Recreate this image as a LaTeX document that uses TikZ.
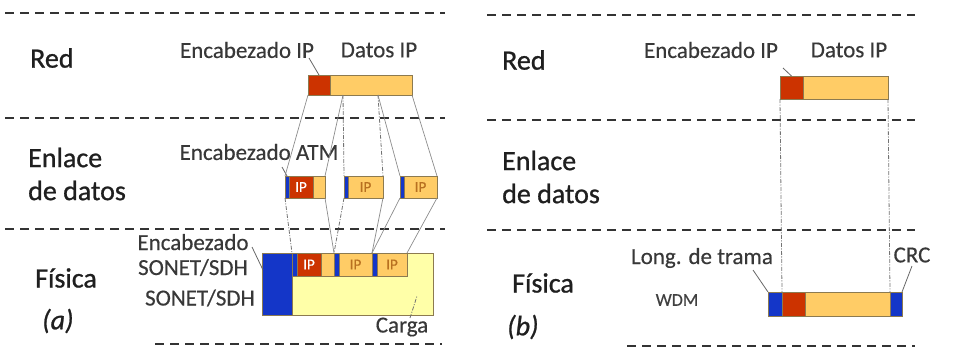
\documentclass[tikz,border=0pt]{standalone}
\usepackage{fontspec}
\setmainfont{Carlito}
\newfontfamily\layerfont[FakeBold=0.9]{Carlito}
\newfontfamily\lblfont[FakeBold=0.4]{Carlito}
\definecolor{hred}{HTML}{CC3300}
\definecolor{dorange}{HTML}{FFCC66}
\definecolor{hblue}{HTML}{1436C8}
\definecolor{pyellow}{HTML}{FFFFA8}
\definecolor{edgec}{HTML}{8C7A50}
\definecolor{iptext}{HTML}{B87020}
\tikzset{
  layer/.style={font=\layerfont\fontsize{28}{33}\selectfont, text=black!88, align=left, anchor=west, inner sep=0pt},
  lbl/.style={font=\lblfont\fontsize{23}{25}\selectfont, text=black!78, inner sep=0pt},
  smlbl/.style={font=\lblfont\fontsize{18}{20}\selectfont, text=black!75, inner sep=0pt},
  dline/.style={line width=2.4pt, black!80, dash pattern=on 9pt off 6pt},
  pbox/.style={draw=edgec, line width=0.6pt, inner sep=0pt, anchor=north west, outer sep=0pt},
  iplab/.style={font=\lblfont\fontsize{15}{15}\selectfont},
  conn/.style={black!45, line width=0.7pt},
  dconn/.style={black!55, line width=0.8pt, dash pattern=on 4pt off 1.5pt on 1pt off 1.5pt},
  ptr/.style={black!60, line width=0.8pt},
}
\begin{document}
\begin{tikzpicture}[x=1pt,y=-1pt]
\useasboundingbox (0,0) rectangle (954,354);
% ---------- dashed layer separators ----------
\draw[dline] (5,13) -- (445,13);
\draw[dline] (5,118) -- (445,118);
\draw[dline] (5,229) -- (445,229);
\draw[dline] (155,344) -- (442,344);
\draw[dline] (487,15) -- (915,15);
\draw[dline] (487,120) -- (915,120);
\draw[dline] (487,230) -- (915,230);
\draw[dline] (627,346) -- (915,346);

% ---------- layer labels ----------
\node[layer] (redA) at (30,58) {Red};
\node[layer] (enlA) at (28,174) {Enlace\\de datos};
\node[layer] (fisA) at (35,278) {Física};
\node[layer, font=\layerfont\fontsize{28}{33}\selectfont\itshape] (capA) at (42,321) {(a)};
\node[layer] (redB) at (502,60) {Red};
\node[layer] (enlB) at (502,177) {Enlace\\de datos};
\node[layer] (fisB) at (512,283) {Física};
\node[layer, font=\layerfont\fontsize{28}{33}\selectfont\itshape] (capB) at (507,327) {(b)};

% ================= (a) =================
% IP packet
\node[pbox, fill=hred, minimum width=22pt, minimum height=20pt] (ipaH) at (308,75) {};
\node[pbox, fill=dorange, minimum width=82pt, minimum height=20pt] (ipaD) at (330,75) {};
\coordinate (ipaS1) at (343,95);
\coordinate (ipaS2) at (378,95);
\node[lbl] (tEncIPa) at (247,50) {Encabezado IP};
\node[lbl] (tDatIPa) at (379,50) {Datos IP};
\coordinate (pIPa) at (309,58);
\draw[ptr] (pIPa) -- (ipaH.north);

% ATM cells
\node[pbox, fill=hblue, minimum width=4pt, minimum height=22pt] (c1B) at (285,176) {};
\node[pbox, fill=hred, minimum width=24pt, minimum height=22pt, text=white, iplab] (c1H) at (289,176) {IP};
\node[pbox, fill=dorange, minimum width=12pt, minimum height=22pt] (c1D) at (313,176) {};
\node[pbox, fill=hblue, minimum width=4pt, minimum height=22pt] (c2B) at (344,176) {};
\node[pbox, fill=dorange, minimum width=35pt, minimum height=22pt, text=iptext, iplab] (c2D) at (348,176) {IP};
\node[pbox, fill=hblue, minimum width=4pt, minimum height=22pt] (c3B) at (400,176) {};
\node[pbox, fill=dorange, minimum width=33pt, minimum height=22pt, text=iptext, iplab] (c3D) at (404,176) {IP};
\node[lbl] (tEncATM) at (259,152) {Encabezado ATM};
\coordinate (pATM) at (282,167);
\draw[ptr] (pATM) -- (c1B.north);

% SONET/SDH frame
\node[pbox, fill=hblue, minimum width=30pt, minimum height=62pt] (sH) at (262,253) {};
\node[pbox, fill=pyellow, minimum width=141pt, minimum height=62pt] (sP) at (292,253) {};
\node[pbox, fill=hblue, minimum width=5pt, minimum height=23pt] (s1B) at (292,253) {};
\node[pbox, fill=hred, minimum width=24pt, minimum height=23pt, text=white, iplab] (s1H) at (297,253) {IP};
\node[pbox, fill=dorange, minimum width=13pt, minimum height=23pt] (s1D) at (321,253) {};
\node[pbox, fill=hblue, minimum width=5pt, minimum height=23pt] (s2B) at (334,253) {};
\node[pbox, fill=dorange, minimum width=33pt, minimum height=23pt, text=iptext, iplab] (s2D) at (339,253) {IP};
\node[pbox, fill=hblue, minimum width=5pt, minimum height=23pt] (s3B) at (372,253) {};
\node[pbox, fill=dorange, minimum width=30pt, minimum height=23pt, text=iptext, iplab] (s3D) at (377,253) {IP};
\node[lbl, align=center] (tEncSON) at (193,255) {Encabezado\\SONET/SDH};
\node[lbl] (tSON) at (200,298) {SONET/SDH};
\node[lbl] (tCarga) at (402,327) {Carga};
\coordinate (pSONa) at (252,247);
\coordinate (pSONb) at (263,270);
\draw[ptr] (pSONa) -- (pSONb);
\coordinate (pCarA) at (410,318);
\coordinate (pCarB) at (417,296);
\draw[dconn] (pCarA) -- (pCarB);

% connectors IP packet -> ATM cells
\draw[conn] (ipaH.south west) -- (c1B.north west);
\draw[conn] (ipaS1) -- (c1D.north east);
\draw[dconn] (ipaS1) -- (c2B.north west);
\draw[dconn] (ipaS2) -- (c2D.north east);
\draw[conn] (ipaS2) -- (c3B.north west);
\draw[conn] (ipaD.south east) -- (c3D.north east);
% connectors ATM cells -> SONET payload
\draw[dconn] (c1B.south west) -- (s1B.north west);
\draw[conn] (c1D.south east) -- (s1D.north east);
\draw[dconn] (c2B.south west) -- (s2B.north west);
\draw[conn] (c2D.south east) -- (s2D.north east);
\draw[conn] (c3B.south west) -- (s3B.north west);
\draw[conn] (c3D.south east) -- (s3D.north east);

% ================= (b) =================
\node[pbox, fill=hred, minimum width=23pt, minimum height=23pt] (ipbH) at (780,76) {};
\node[pbox, fill=dorange, minimum width=85pt, minimum height=23pt] (ipbD) at (803,76) {};
\node[lbl] (tEncIPb) at (711,50) {Encabezado IP};
\node[lbl] (tDatIPb) at (849,50) {Datos IP};
\coordinate (pIPb) at (783,68);
\draw[ptr] (pIPb) -- (ipbH.north);

\node[pbox, fill=hblue, minimum width=14pt, minimum height=24pt] (fB1) at (768,292) {};
\node[pbox, fill=hred, minimum width=23pt, minimum height=24pt] (fH) at (782,292) {};
\node[pbox, fill=dorange, minimum width=85pt, minimum height=24pt] (fD) at (805,292) {};
\node[pbox, fill=hblue, minimum width=12pt, minimum height=24pt] (fB2) at (890,292) {};
\draw[dconn] (ipbH.south west) -- (fH.north west);
\draw[dconn] (ipbD.south east) -- (fD.north east);

\node[lbl] (tLong) at (702,258) {Long. de trama};
\node[lbl] (tCRC) at (912,255) {CRC};
\node[smlbl] (tWDM) at (677,300) {WDM};
\coordinate (pLong) at (753,270);
\draw[ptr] (pLong) -- (fB1.north west);
\coordinate (pCRC) at (912,266);
\draw[ptr] (pCRC) -- (fB2.north east);
\end{tikzpicture}
\end{document}
